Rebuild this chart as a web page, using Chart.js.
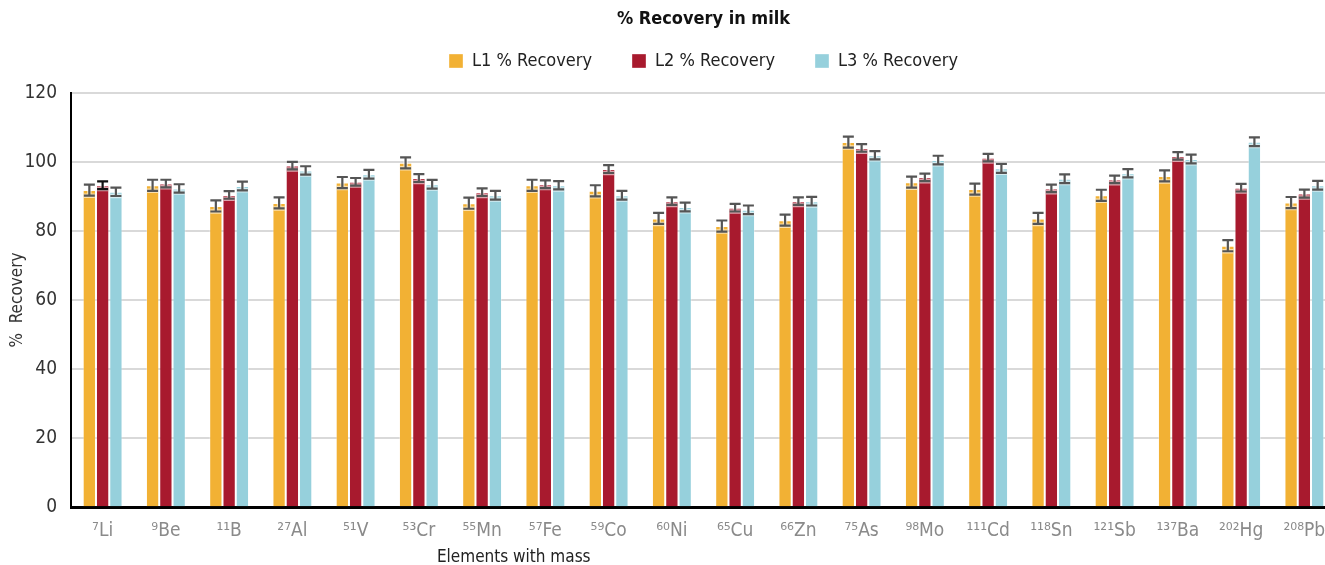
<!DOCTYPE html>
<html lang="en">
<head>
<meta charset="UTF-8" />
<title>% Recovery in milk</title>
<script src="https://cdn.jsdelivr.net/npm/chart.js@4"></script>
<style>
  body {
    margin: 0;
    padding: 0;
    background: #fff;
    overflow: hidden;
  }
  #wrap {
    width: 1336px;
    height: 565px;
  }
</style>
</head>
<body>
<div id="wrap"><canvas id="chart" width="1336" height="565"></canvas></div>
<script>
const elements = ["⁷Li", "⁹Be", "¹¹B", "²⁷Al", "⁵¹V", "⁵³Cr", "⁵⁵Mn", "⁵⁷Fe", "⁵⁹Co", "⁶⁰Ni",
  "⁶⁵Cu", "⁶⁶Zn", "⁷⁵As", "⁹⁸Mo", "¹¹¹Cd", "¹¹⁸Sn", "¹²¹Sb", "¹³⁷Ba", "²⁰²Hg", "²⁰⁸Pb"];

const l1 = [91.8, 93.2, 87.2, 88.1, 94.0, 99.7, 88.0, 93.2, 91.6, 83.6,
  81.4, 83.1, 105.7, 94.1, 92.1, 83.6, 90.3, 95.9, 75.7, 88.2];
const l2 = [93.2, 93.7, 90.4, 98.9, 94.2, 95.3, 91.2, 93.5, 97.9, 88.6,
  86.7, 88.6, 104.0, 95.5, 101.2, 92.3, 94.9, 101.7, 92.5, 90.8];
const l3 = [91.3, 92.3, 93.0, 97.5, 96.4, 93.5, 90.3, 93.2, 90.3, 86.9,
  86.1, 88.6, 101.9, 100.5, 98.1, 95.1, 96.7, 100.8, 105.8, 93.2];

// +/- error for each bar
const l1Err = [1.6, 1.6, 1.6, 1.6, 1.6, 1.6, 1.6, 1.6, 1.6, 1.6,
  1.6, 1.6, 1.6, 1.6, 1.6, 1.6, 1.6, 1.6, 1.6, 1.6];
const l2Err = [1.1, 1.1, 1.1, 1.1, 1.1, 1.15, 1.1, 1.1, 1.15, 1.1,
  1.1, 1.1, 1.1, 1.1, 1.1, 1.1, 1.1, 1.1, 1.1, 1.15];
const l3Err = [1.2, 1.2, 1.25, 1.2, 1.25, 1.25, 1.25, 1.2, 1.25, 1.25,
  1.25, 1.25, 1.2, 1.25, 1.3, 1.25, 1.2, 1.25, 1.25, 1.25];

const yTicks = [0, 20, 40, 60, 80, 100, 120];

const FONT = "'Liberation Sans Narrow', 'DejaVu Sans Condensed', 'Liberation Sans', sans-serif";
Chart.defaults.font.family = FONT;
Chart.defaults.color = "#333";

const errorBars = {
  id: "errorBars",
  afterDatasetsDraw(chart) {
    const ctx = chart.ctx;
    const y = chart.scales.y;
    chart.data.datasets.forEach((ds, i) => {
      const meta = chart.getDatasetMeta(i);
      if (meta.hidden || !ds.errors) return;
      meta.data.forEach((bar, j) => {
        const v = ds.data[j];
        const e = ds.errors[j];
        const top = y.getPixelForValue(v + e);
        const bot = y.getPixelForValue(v - e);
        const x = bar.x;
        const half = 5.5;
        const path = () => {
          ctx.beginPath();
          ctx.moveTo(x, top);
          ctx.lineTo(x, bot);
          ctx.moveTo(x - half, top);
          ctx.lineTo(x + half, top);
          ctx.moveTo(x - half, bot);
          ctx.lineTo(x + half, bot);
        };
        ctx.save();
        ctx.lineCap = "butt";
        path();
        ctx.strokeStyle = "rgba(255,255,255,0.6)";
        ctx.lineWidth = 4.5;
        ctx.stroke();
        path();
        ctx.strokeStyle = typeof ds.errorColor === "function" ? ds.errorColor(j) : ds.errorColor;
        ctx.lineWidth = 2.2;
        ctx.stroke();
        ctx.restore();
      });
    });
  }
};

// x axis caption sits left of centre, under the middle elements
const xCaption = {
  id: "xCaption",
  afterDraw(chart) {
    const ctx = chart.ctx;
    const x = chart.scales.x;
    ctx.save();
    ctx.font = "17px " + FONT;
    ctx.fillStyle = "#222";
    ctx.textAlign = "center";
    ctx.textBaseline = "middle";
    ctx.fillText("Elements with mass", x.getPixelForDecimal(0.35), chart.height - 7);
    ctx.restore();
  }
};

const ctx = document.getElementById("chart").getContext("2d");
new Chart(ctx, {
  type: "bar",
  data: {
    labels: elements,
    datasets: [
      {
        label: "L1 % Recovery",
        data: l1,
        errors: l1Err,
        errorColor: "#555",
        backgroundColor: "#f2b134",
        borderColor: "rgba(255,255,255,0.35)",
        borderWidth: 1
      },
      {
        label: "L2 % Recovery",
        data: l2,
        errors: l2Err,
        errorColor: (j) => (j === 0 ? "#111" : "#555"),
        backgroundColor: "#a81a2e",
        borderColor: "rgba(255,255,255,0.35)",
        borderWidth: 1
      },
      {
        label: "L3 % Recovery",
        data: l3,
        errors: l3Err,
        errorColor: "#555",
        backgroundColor: "#96d0dc",
        borderColor: "rgba(255,255,255,0.35)",
        borderWidth: 1
      }
    ]
  },
  options: {
    responsive: false,
    animation: false,
    categoryPercentage: 0.63,
    barPercentage: 1.0,
    layout: {
      padding: { left: 7, right: 0, top: 0, bottom: 19 }
    },
    plugins: {
      title: {
        display: true,
        fullSize: false,
        text: "% Recovery in milk",
        color: "#111",
        font: { size: 18, weight: "bold" },
        // the legend row tucks up under the title
        padding: { top: 9, bottom: -18.6 }
      },
      // empty line: gap between legend and plot
      subtitle: {
        display: true,
        fullSize: false,
        weight: 500,
        text: "",
        font: { size: 1 },
        padding: { top: 0, bottom: 11.5 }
      },
      legend: {
        fullSize: false,
        labels: {
          boxWidth: 14,
          boxHeight: 14,
          padding: 40,
          color: "#222",
          font: { size: 18 }
        }
      },
      tooltip: { enabled: false }
    },
    scales: {
      x: {
        grid: { display: false },
        border: { display: true, color: "#000", width: 3 },
        ticks: {
          color: "#8a8a8a",
          padding: 4,
          font: { size: 19 }
        }
      },
      y: {
        min: 0,
        max: 120,
        afterBuildTicks: (axis) => {
          axis.ticks = yTicks.map((v) => ({ value: v }));
        },
        afterFit: (axis) => {
          axis.width = 64;
        },
        grid: {
          color: "#d9d9d9",
          lineWidth: 2,
          drawTicks: false
        },
        border: { display: true, color: "#000", width: 2 },
        ticks: {
          color: "#333",
          padding: 14,
          font: { size: 19 }
        },
        title: {
          display: true,
          text: "%  Recovery",
          color: "#333",
          font: { size: 17 },
          padding: { top: 0, bottom: 0 }
        }
      }
    }
  },
  plugins: [errorBars, xCaption]
});
</script>
</body>
</html>
